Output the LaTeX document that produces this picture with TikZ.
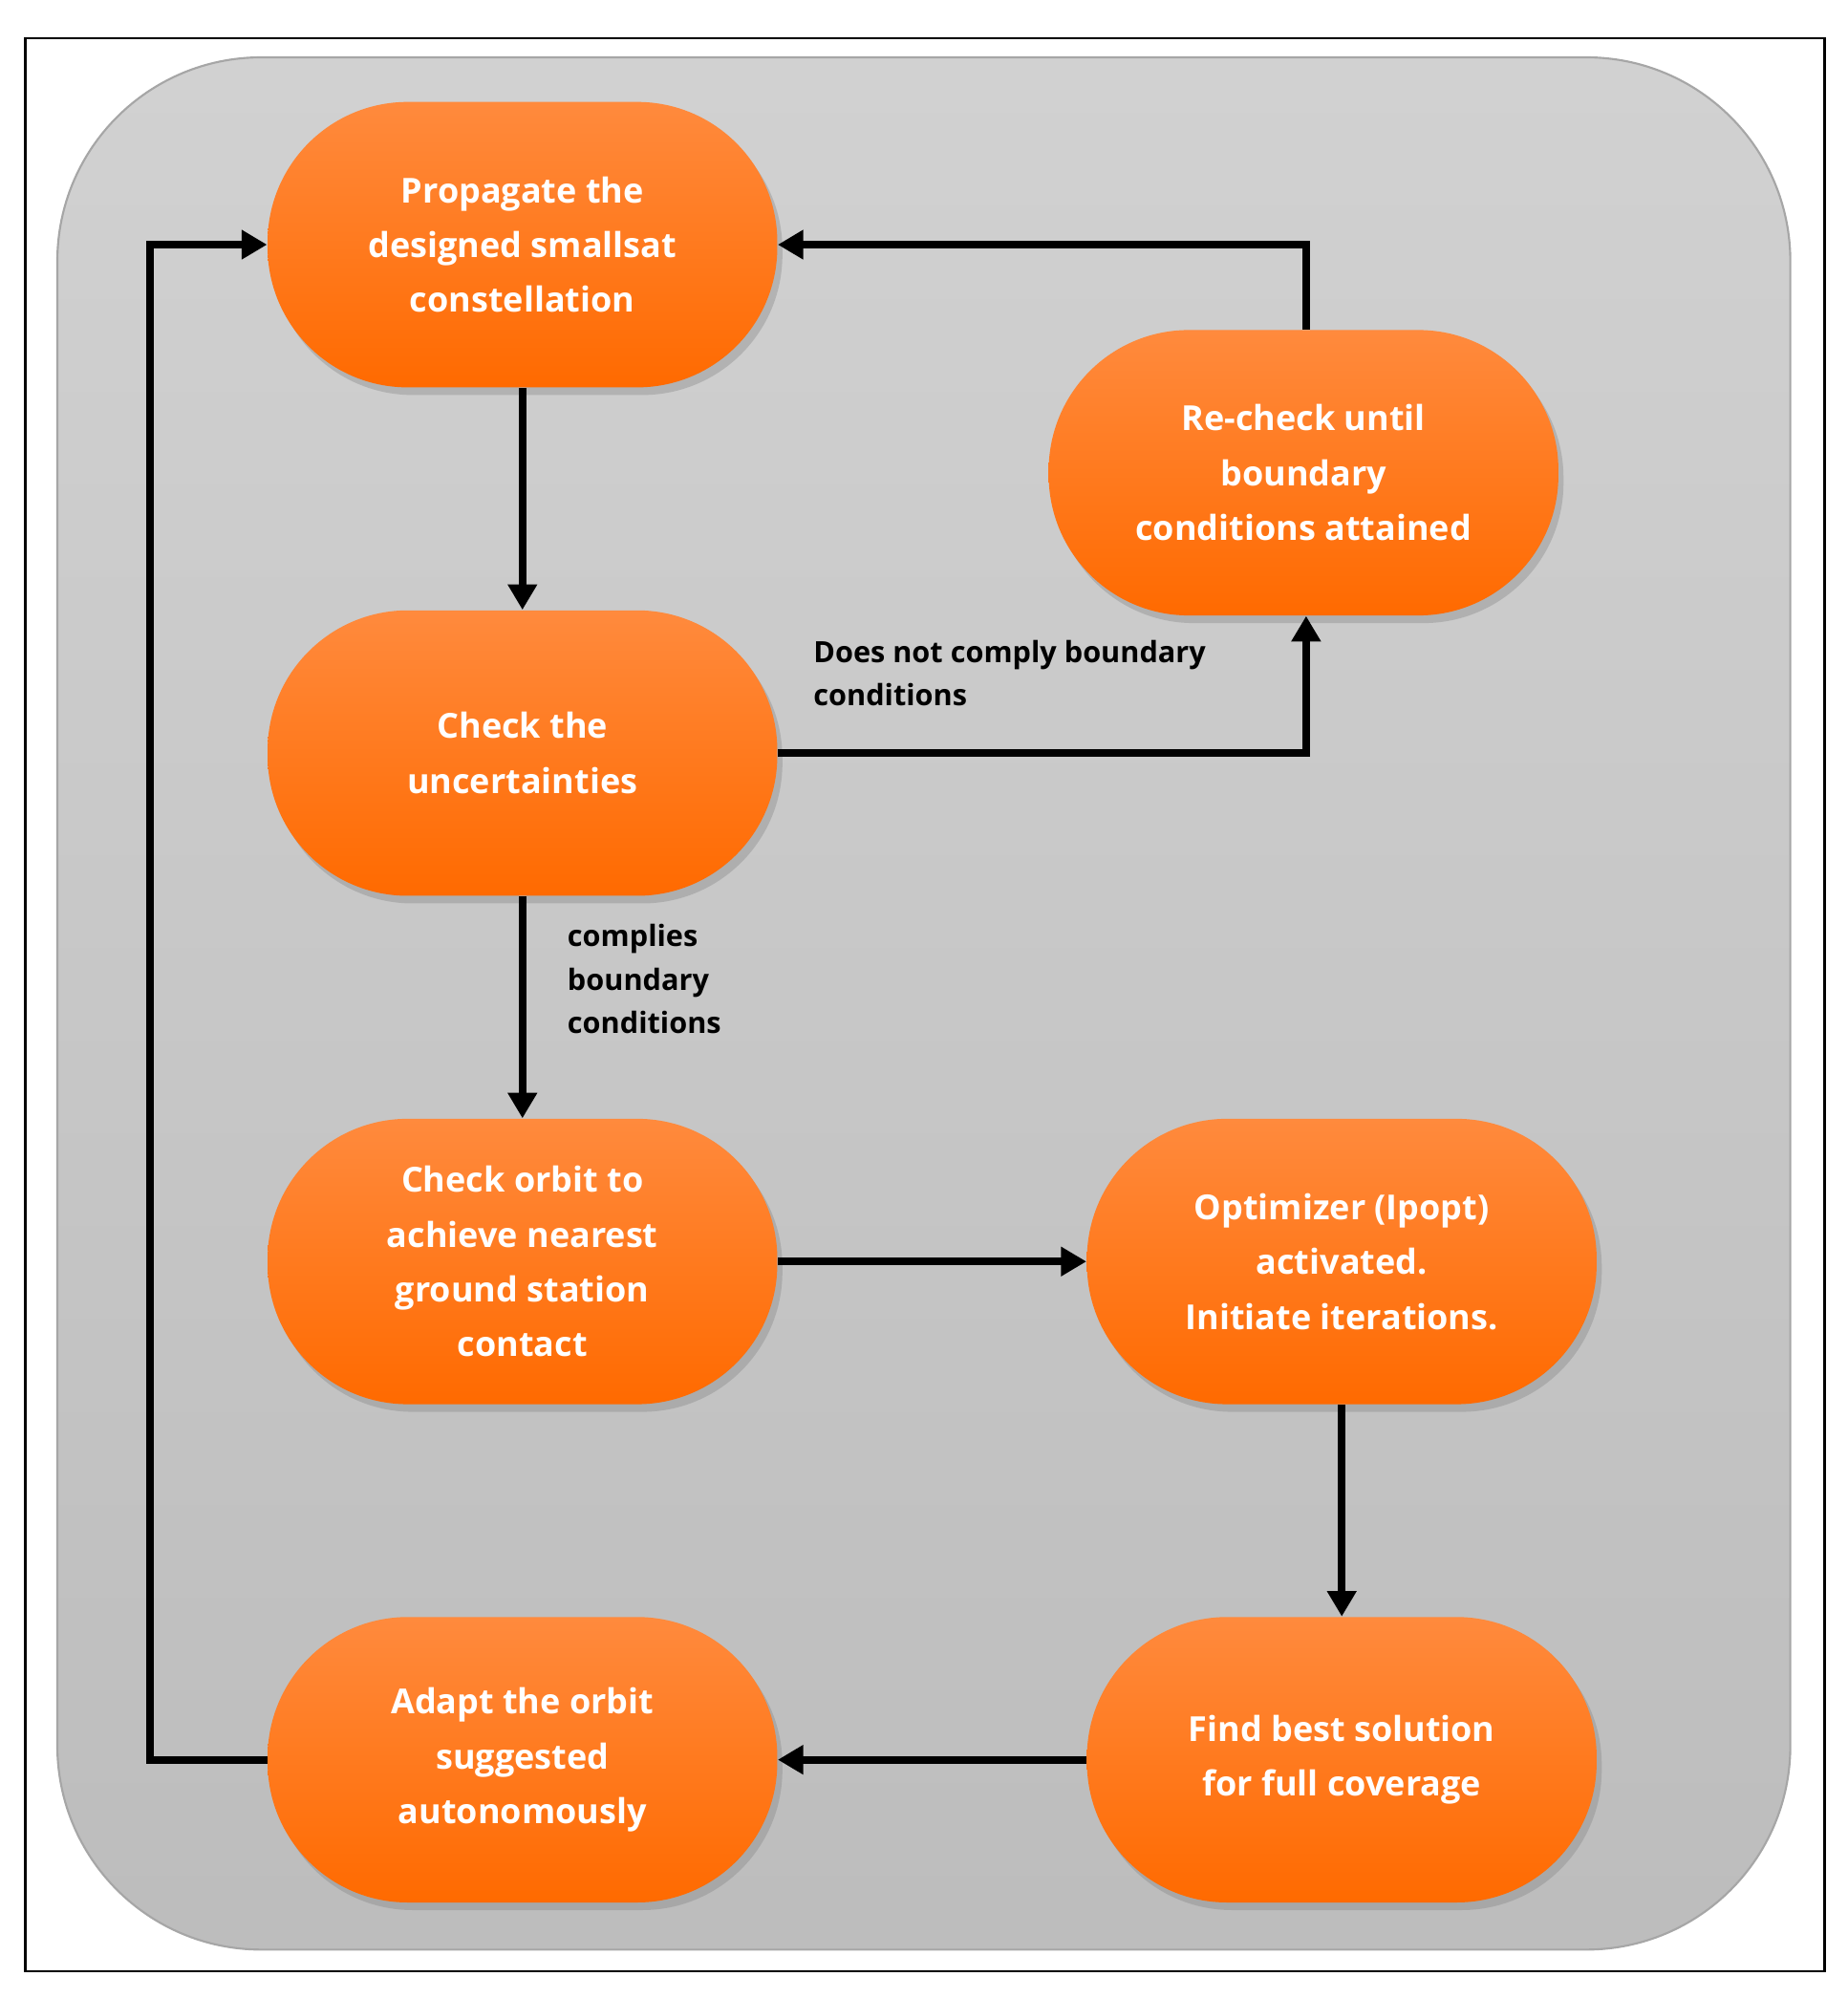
\documentclass[tikz,border=0pt]{standalone}
\usepackage{fontspec}
\setmainfont{Open Sans}
\usetikzlibrary{arrows.meta,shadows,positioning}
\definecolor{orT}{HTML}{FF8A3D}
\definecolor{orB}{HTML}{FF6A00}
\begin{document}
\begin{tikzpicture}[x=0.5pt,y=-0.5pt,
  box/.style={rounded corners=55pt,minimum width=200pt,minimum height=112pt,
    top color=orT,bottom color=orB,draw=none,text=white,align=center,
    font=\bfseries\fontsize{13.5}{21.5}\selectfont,
    drop shadow={shadow xshift=2pt,shadow yshift=-3pt,opacity=0.35}},
  link/.style={line width=3pt,-{Triangle[length=10pt,width=11pt]}},
  lab/.style={font=\fontsize{11.5}{17}\selectfont\bfseries,align=left,anchor=north west,inner sep=0}]
\useasboundingbox (0,0) rectangle (1450,1568);
\draw[line width=1pt] (20,30) rectangle (1432,1547);
\shade[top color=black!18,bottom color=black!26,draw=black!35,line width=0.8pt,rounded corners=80pt]
  (45,45) rectangle (1405,1530);
\node[box] (A) at (410,192) {Propagate the\\designed smallsat\\constellation};
\node[box] (B) at (1023,371) {Re-check until\\boundary\\conditions attained};
\node[box] (C) at (410,591) {Check the\\uncertainties};
\node[box] (D) at (410,990) {Check orbit to\\achieve nearest\\ground station\\contact};
\node[box] (E) at (1053,990) {Optimizer (Ipopt)\\activated.\\Initiate iterations.};
\node[box] (F) at (1053,1381) {Find best solution\\for full coverage};
\node[box] (G) at (410,1381) {Adapt the orbit\\suggested\\autonomously};
\coordinate (k1) at (1025,591);
\coordinate (k2) at (1025,192);
\coordinate (k3) at (118,1381);
\coordinate (k4) at (118,192);
\draw[link] (A) -- (C);
\draw[link] (C.east) -- (k1) -- (B.south -| k1);
\draw[link] (B.north -| k2) -- (k2) -- (A.east);
\draw[link] (C) -- (D);
\draw[link] (D) -- (E);
\draw[link] (E) -- (F);
\draw[link] (F) -- (G);
\draw[link] (G.west) -- (k3) -- (k4) -- (A.west);
\node[lab] (l1) at (638,502) {Does not comply boundary\\conditions};
\node[lab] (l2) at (445,725) {complies\\boundary\\conditions};
\end{tikzpicture}
\end{document}
